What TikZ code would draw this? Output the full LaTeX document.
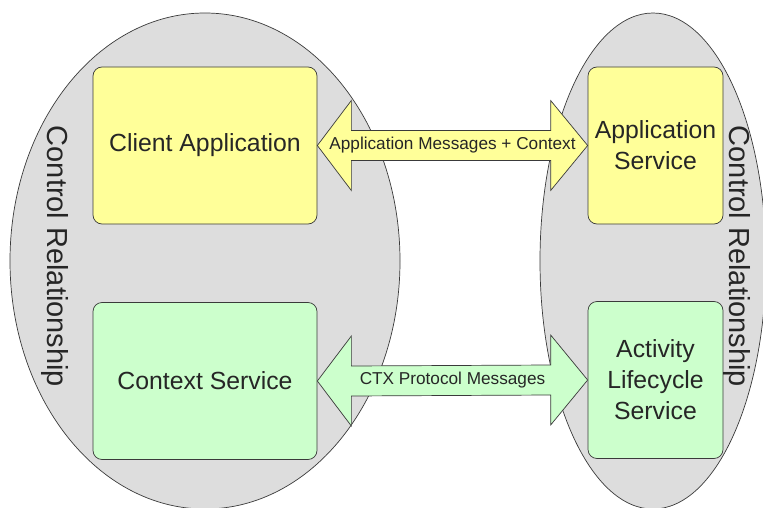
\documentclass[tikz,border=0pt]{standalone}
\usepackage{fontspec}
\setmainfont{Liberation Sans}
\usetikzlibrary{calc}

\definecolor{appyellow}{HTML}{FFFF99}
\definecolor{ctxgreen}{HTML}{CCFFCC}
\definecolor{domgrey}{HTML}{DDDDDD}
\definecolor{linec}{HTML}{3A3A3A}
\definecolor{txt}{HTML}{262626}

\begin{document}
\begin{tikzpicture}[x=1pt,y=-1pt,
  ctrldomain/.style={draw=linec, fill=domgrey, line width=0.7pt},
  svcbox/.style={draw=linec, rounded corners=9pt, line width=0.7pt,
    minimum height=157pt, align=center, inner sep=0pt, text=txt,
    font=\fontsize{24.8}{31}\selectfont},
  widebox/.style={svcbox, minimum width=224pt},
  narrowbox/.style={svcbox, minimum width=135pt},
  msgarrow/.style={draw=linec, line width=0.7pt, line join=miter},
  msglabel/.style={text=txt, inner sep=0pt, font=\fontsize{17.2}{20}\selectfont},
  ctlabel/.style={text=txt, rotate=-90, inner sep=0pt, font=\fontsize{29}{32}\selectfont}
]
\useasboundingbox (0,0) rectangle (763,508);

% two control domains
\draw[ctrldomain] (205,261) ellipse [x radius=195pt, y radius=248pt];
\draw[ctrldomain] (653,261) ellipse [x radius=113pt, y radius=248pt];

% services
\node[widebox, fill=appyellow] (client) at (205,145.5) {Client Application};
\node[widebox, fill=ctxgreen] (ctx) at (205,381) {Context Service};
\node[narrowbox, fill=appyellow] (appsvc) at (655.5,145.5) {Application\\Service};
\node[narrowbox, fill=ctxgreen] (als) at (655.5,380) {Activity\\Lifecycle\\Service};

% control relationship labels
\node[ctlabel] (ctl) at (55,256.5) {Control Relationship};
\node[ctlabel] (ctr) at (737,256.5) {Control Relationship};

% application message exchange
\draw[msgarrow, fill=appyellow] (client.east) -- ++(34,-45) -- ++(0,30)
  -- ($(appsvc.west)+(-37,-15)$) -- ++(0,-30) -- (appsvc.west)
  -- ++(-37,45) -- ++(0,-30) -- ($(client.east)+(34,15)$) -- ++(0,30) -- cycle;
\node[msglabel] (appmsg) at ($(client.east)!0.5!(appsvc.west)$) {Application Messages + Context};

% context protocol exchange
\draw[msgarrow, fill=ctxgreen] (ctx.east) -- ++(34,-45) -- ++(0,30)
  -- ($(als.west)+(-37,-15)$) -- ++(0,-30) -- (als.west)
  -- ++(-37,45) -- ++(0,-30) -- ($(ctx.east)+(34,15)$) -- ++(0,30) -- cycle;
\node[msglabel] (ctxmsg) at ($(ctx.east)!0.5!(als.west)$) {CTX Protocol Messages};
\end{tikzpicture}
\end{document}
